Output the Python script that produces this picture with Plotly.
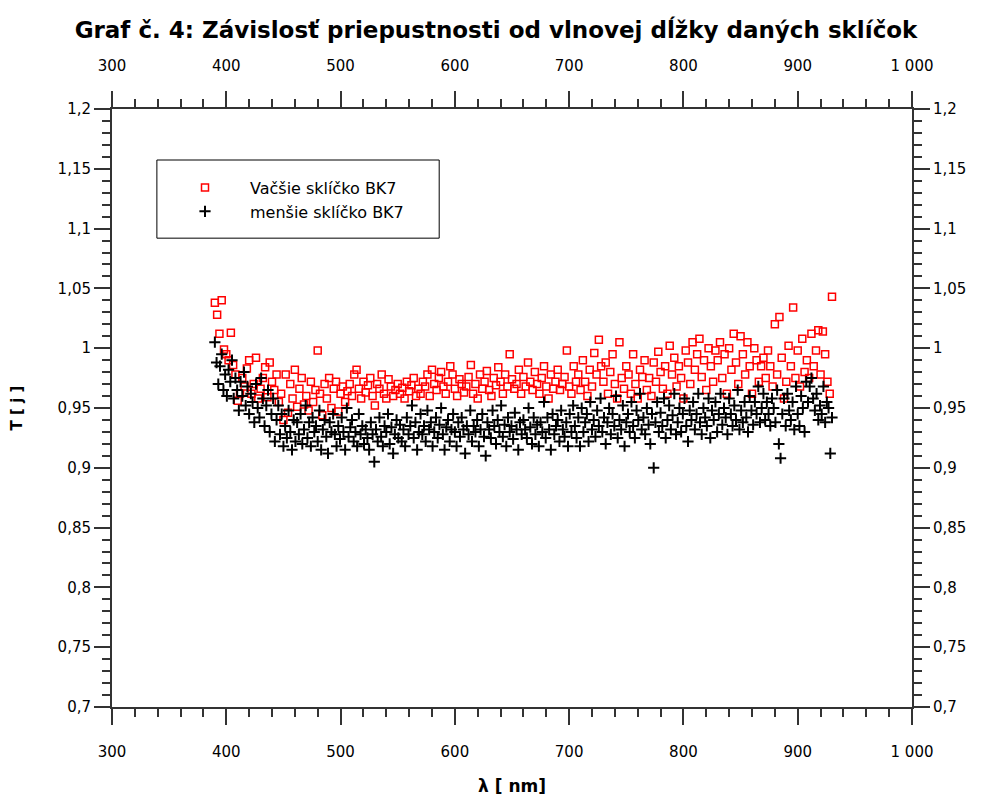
import plotly.graph_objects as go

# Wavelength grids (nm)
wl_big = list(range(390, 931, 2))
wl_small = [390 + 1.5 * i for i in range(361)]

# Transmittance - larger BK7 slide (red squares)
T_big = [
    1.038, 1.028, 1.012, 1.040, 0.999, 0.995, 0.990, 1.013, 0.986, 0.978,
    0.956, 0.962, 0.975, 0.968, 0.983, 0.990, 0.962, 0.970, 0.992, 0.958,
    0.966, 0.975, 0.984, 0.959, 0.988, 0.972, 0.965, 0.978, 0.955, 0.962,
    0.940, 0.978, 0.946, 0.970, 0.958, 0.982, 0.951, 0.966, 0.975, 0.953,
    0.960, 0.948, 0.972, 0.955, 0.965, 0.998, 0.962, 0.944, 0.970, 0.958,
    0.975, 0.950, 0.966, 0.972, 0.947, 0.962, 0.968, 0.955, 0.964, 0.970,
    0.960, 0.978, 0.982, 0.966, 0.958, 0.972, 0.963, 0.969, 0.975, 0.960,
    0.952, 0.970, 0.966, 0.978, 0.962, 0.958, 0.974, 0.968, 0.960, 0.965,
    0.970, 0.962, 0.967, 0.958, 0.972, 0.964, 0.969, 0.975, 0.960, 0.966,
    0.962, 0.972, 0.968, 0.978, 0.960, 0.982, 0.970, 0.965, 0.975, 0.980,
    0.968, 0.962, 0.972, 0.985, 0.978, 0.966, 0.960, 0.974, 0.970, 0.963,
    0.968, 0.976, 0.986, 0.962, 0.970, 0.958, 0.978, 0.966, 0.972, 0.981,
    0.965, 0.960, 0.975, 0.969, 0.984, 0.972, 0.962, 0.978, 0.968, 0.995,
    0.974, 0.966, 0.970, 0.982, 0.962, 0.976, 0.968, 0.988, 0.972, 0.965,
    0.980, 0.970, 0.962, 0.975, 0.985, 0.968, 0.958, 0.978, 0.966, 0.972,
    0.982, 0.965, 0.970, 0.976, 0.998, 0.968, 0.962, 0.985, 0.972, 0.978,
    0.965, 0.990, 0.972, 0.960, 0.982, 0.968, 0.996, 0.978, 1.007, 0.985,
    0.972, 0.988, 0.962, 0.980, 0.995, 0.970, 0.958, 1.005, 0.975, 0.966,
    0.985, 0.978, 0.962, 0.995, 0.970, 0.958, 0.982, 0.976, 0.990, 0.965,
    0.975, 0.960, 0.988, 0.972, 0.997, 0.980, 0.966, 0.985, 0.962, 1.002,
    0.978, 0.992, 0.968, 0.985, 0.975, 0.958, 0.998, 0.988, 0.970, 1.005,
    0.982, 0.995, 1.008, 0.976, 0.990, 0.965, 1.000, 0.985, 0.972, 0.998,
    0.990, 1.005, 0.975, 0.995, 0.962, 1.000, 0.982, 1.012, 0.988, 0.970,
    1.010, 0.995, 0.978, 1.005, 0.985, 0.962, 1.000, 0.990, 0.972, 0.985,
    0.992, 0.975, 0.998, 0.985, 0.968, 1.020, 0.978, 1.026, 0.992, 0.958,
    0.972, 1.002, 0.985, 1.034, 0.975, 0.998, 0.968, 1.008, 0.980, 0.990,
    0.975, 1.012, 0.985, 0.998, 1.015, 0.978, 1.014, 0.995, 0.972, 0.962,
    1.043,
]

# Transmittance - smaller BK7 slide (black crosses)
T_small = [
    1.005, 0.988, 0.970, 0.985, 0.995, 0.965, 0.978, 0.960, 0.982, 0.972,
    0.990, 0.958, 0.975, 0.965, 0.948, 0.972, 0.960, 0.980, 0.952, 0.968,
    0.945, 0.962, 0.955, 0.938, 0.970, 0.950, 0.942, 0.975, 0.958, 0.935,
    0.952, 0.965, 0.930, 0.945, 0.958, 0.922, 0.940, 0.952, 0.928, 0.945,
    0.918, 0.935, 0.925, 0.948, 0.930, 0.915, 0.940, 0.922, 0.938, 0.928,
    0.945, 0.920, 0.932, 0.952, 0.925, 0.938, 0.918, 0.942, 0.930, 0.935,
    0.922, 0.948, 0.915, 0.932, 0.940, 0.926, 0.912, 0.938, 0.930, 0.945,
    0.928, 0.918, 0.935, 0.924, 0.942, 0.930, 0.915, 0.950, 0.926, 0.934,
    0.940, 0.922, 0.930, 0.918, 0.945, 0.928, 0.935, 0.920, 0.932, 0.925,
    0.915, 0.938, 0.928, 0.905, 0.932, 0.922, 0.942, 0.926, 0.918, 0.935,
    0.930, 0.945, 0.920, 0.934, 0.912, 0.928, 0.940, 0.925, 0.936, 0.922,
    0.932, 0.918, 0.942, 0.928, 0.935, 0.952, 0.925, 0.938, 0.915, 0.930,
    0.945, 0.928, 0.935, 0.922, 0.948, 0.932, 0.938, 0.918, 0.930, 0.942,
    0.925, 0.936, 0.950, 0.928, 0.915, 0.934, 0.940, 0.922, 0.932, 0.945,
    0.930, 0.918, 0.938, 0.926, 0.942, 0.932, 0.912, 0.935, 0.928, 0.948,
    0.922, 0.935, 0.930, 0.940, 0.918, 0.932, 0.945, 0.926, 0.910, 0.938,
    0.932, 0.925, 0.948, 0.935, 0.920, 0.940, 0.930, 0.952, 0.926, 0.936,
    0.918, 0.942, 0.930, 0.935, 0.924, 0.946, 0.932, 0.915, 0.938, 0.928,
    0.940, 0.932, 0.925, 0.950, 0.934, 0.920, 0.942, 0.928, 0.936, 0.918,
    0.938, 0.930, 0.955, 0.925, 0.942, 0.932, 0.915, 0.945, 0.928, 0.935,
    0.940, 0.922, 0.948, 0.932, 0.926, 0.938, 0.918, 0.945, 0.930, 0.952,
    0.935, 0.925, 0.942, 0.918, 0.950, 0.930, 0.938, 0.945, 0.922, 0.955,
    0.932, 0.940, 0.926, 0.948, 0.935, 0.958, 0.930, 0.942, 0.920, 0.938,
    0.950, 0.928, 0.945, 0.935, 0.960, 0.925, 0.940, 0.932, 0.952, 0.918,
    0.938, 0.945, 0.930, 0.955, 0.935, 0.925, 0.948, 0.940, 0.962, 0.932,
    0.942, 0.928, 0.950, 0.936, 0.920, 0.945, 0.900, 0.938, 0.955, 0.930,
    0.946, 0.935, 0.958, 0.925, 0.940, 0.952, 0.932, 0.944, 0.962, 0.928,
    0.938, 0.950, 0.930, 0.945, 0.958, 0.935, 0.922, 0.948, 0.940, 0.955,
    0.932, 0.945, 0.962, 0.938, 0.928, 0.950, 0.942, 0.935, 0.958, 0.925,
    0.948, 0.940, 0.955, 0.930, 0.945, 0.962, 0.936, 0.950, 0.942, 0.928,
    0.958, 0.945, 0.935, 0.952, 0.940, 0.965, 0.932, 0.948, 0.938, 0.955,
    0.942, 0.930, 0.960, 0.948, 0.936, 0.955, 0.945, 0.968, 0.938, 0.950,
    0.962, 0.940, 0.955, 0.945, 0.935, 0.958, 0.950, 0.938, 0.965, 0.920,
    0.908, 0.945, 0.958, 0.935, 0.962, 0.948, 0.940, 0.955, 0.932, 0.968,
    0.945, 0.935, 0.960, 0.950, 0.930, 0.972, 0.955, 0.968, 0.975, 0.958,
    0.948, 0.962, 0.940, 0.952, 0.945, 0.968, 0.938, 0.955, 0.950, 0.912,
    0.942,
]

X_RANGE = [300, 1000]
Y_RANGE = [0.7, 1.2]

FONT = "DejaVu Sans"
AX = "#333333"

fig = go.Figure()
fig.add_trace(go.Scatter(
    x=wl_big, y=T_big, mode="markers", name="Vačšie sklíčko BK7",
    marker=dict(symbol="square-open", size=7, color="#ff0000",
                line=dict(width=1.5, color="#ff0000")),
))
fig.add_trace(go.Scatter(
    x=wl_small, y=T_small, mode="markers", name="menšie sklíčko BK7",
    marker=dict(symbol="cross-thin", size=8, color="#000000",
                line=dict(width=2, color="#000000")),
))
# invisible trace to activate the mirrored top/right axes
fig.add_trace(go.Scatter(
    x=X_RANGE, y=Y_RANGE, xaxis="x2", yaxis="y2", mode="markers",
    marker=dict(opacity=0), showlegend=False, hoverinfo="skip",
))

tickfont = dict(family=FONT, size=15, color="#000")
common_x = dict(range=X_RANGE, dtick=100, tick0=300, ticks="outside", ticklen=16,
                tickwidth=2, tickcolor=AX, showline=True, linecolor=AX, linewidth=2,
                showgrid=False, zeroline=False, tickfont=tickfont, automargin=False,
                minor=dict(dtick=20, ticks="outside", ticklen=8, tickwidth=2, tickcolor=AX),
                separatethousands=True, ticklabelstandoff=14)
common_y = dict(range=Y_RANGE, dtick=0.05, tick0=0.7, ticks="outside", ticklen=16,
                tickwidth=2, tickcolor=AX, showline=True, linecolor=AX, linewidth=2,
                showgrid=False, zeroline=False, tickfont=tickfont, automargin=False,
                minor=dict(dtick=0.01, ticks="outside", ticklen=8, tickwidth=2, tickcolor=AX))

# page body has an 8px margin, so the figure is sized/offset to compensate
fig.update_layout(
    width=976, height=788,
    paper_bgcolor="white", plot_bgcolor="white",
    separators=", ",
    margin=dict(l=104, r=72, t=101, b=89, autoexpand=False),
    title=dict(text="<b>Graf č. 4: Závislosť priepustnosti od vlnovej dĺžky daných sklíčok</b>",
               x=0.5, xanchor="center", y=0.972, yanchor="middle",
               font=dict(family=FONT, size=23, color="#000")),
    xaxis=dict(**common_x, side="bottom",
               title=dict(text="<b>λ [ nm]</b>", font=dict(family=FONT, size=17, color="#000"),
                          standoff=20)),
    xaxis2=dict(**common_x, side="top", overlaying="x", anchor="y"),
    yaxis=dict(**common_y, side="left",
               title=dict(text="<b>T [ j ]</b>", font=dict(family=FONT, size=15, color="#000"),
                          standoff=36)),
    yaxis2=dict(**common_y, side="right", overlaying="y", anchor="x"),
    showlegend=True,
    legend=dict(x=0.06, y=0.897, xanchor="left", yanchor="top",
                bgcolor="rgba(0,0,0,0)", borderwidth=0,
                font=dict(family=FONT, size=16, color="#000"),
                itemwidth=80, tracegroupgap=0),
    shapes=[dict(type="rect", xref="paper", yref="paper",
                 x0=0.0561, x1=0.409, y0=0.784, y1=0.9147,
                 line=dict(color="#000", width=1), fillcolor="rgba(0,0,0,0)")],
)

fig.write_html("out.html")
